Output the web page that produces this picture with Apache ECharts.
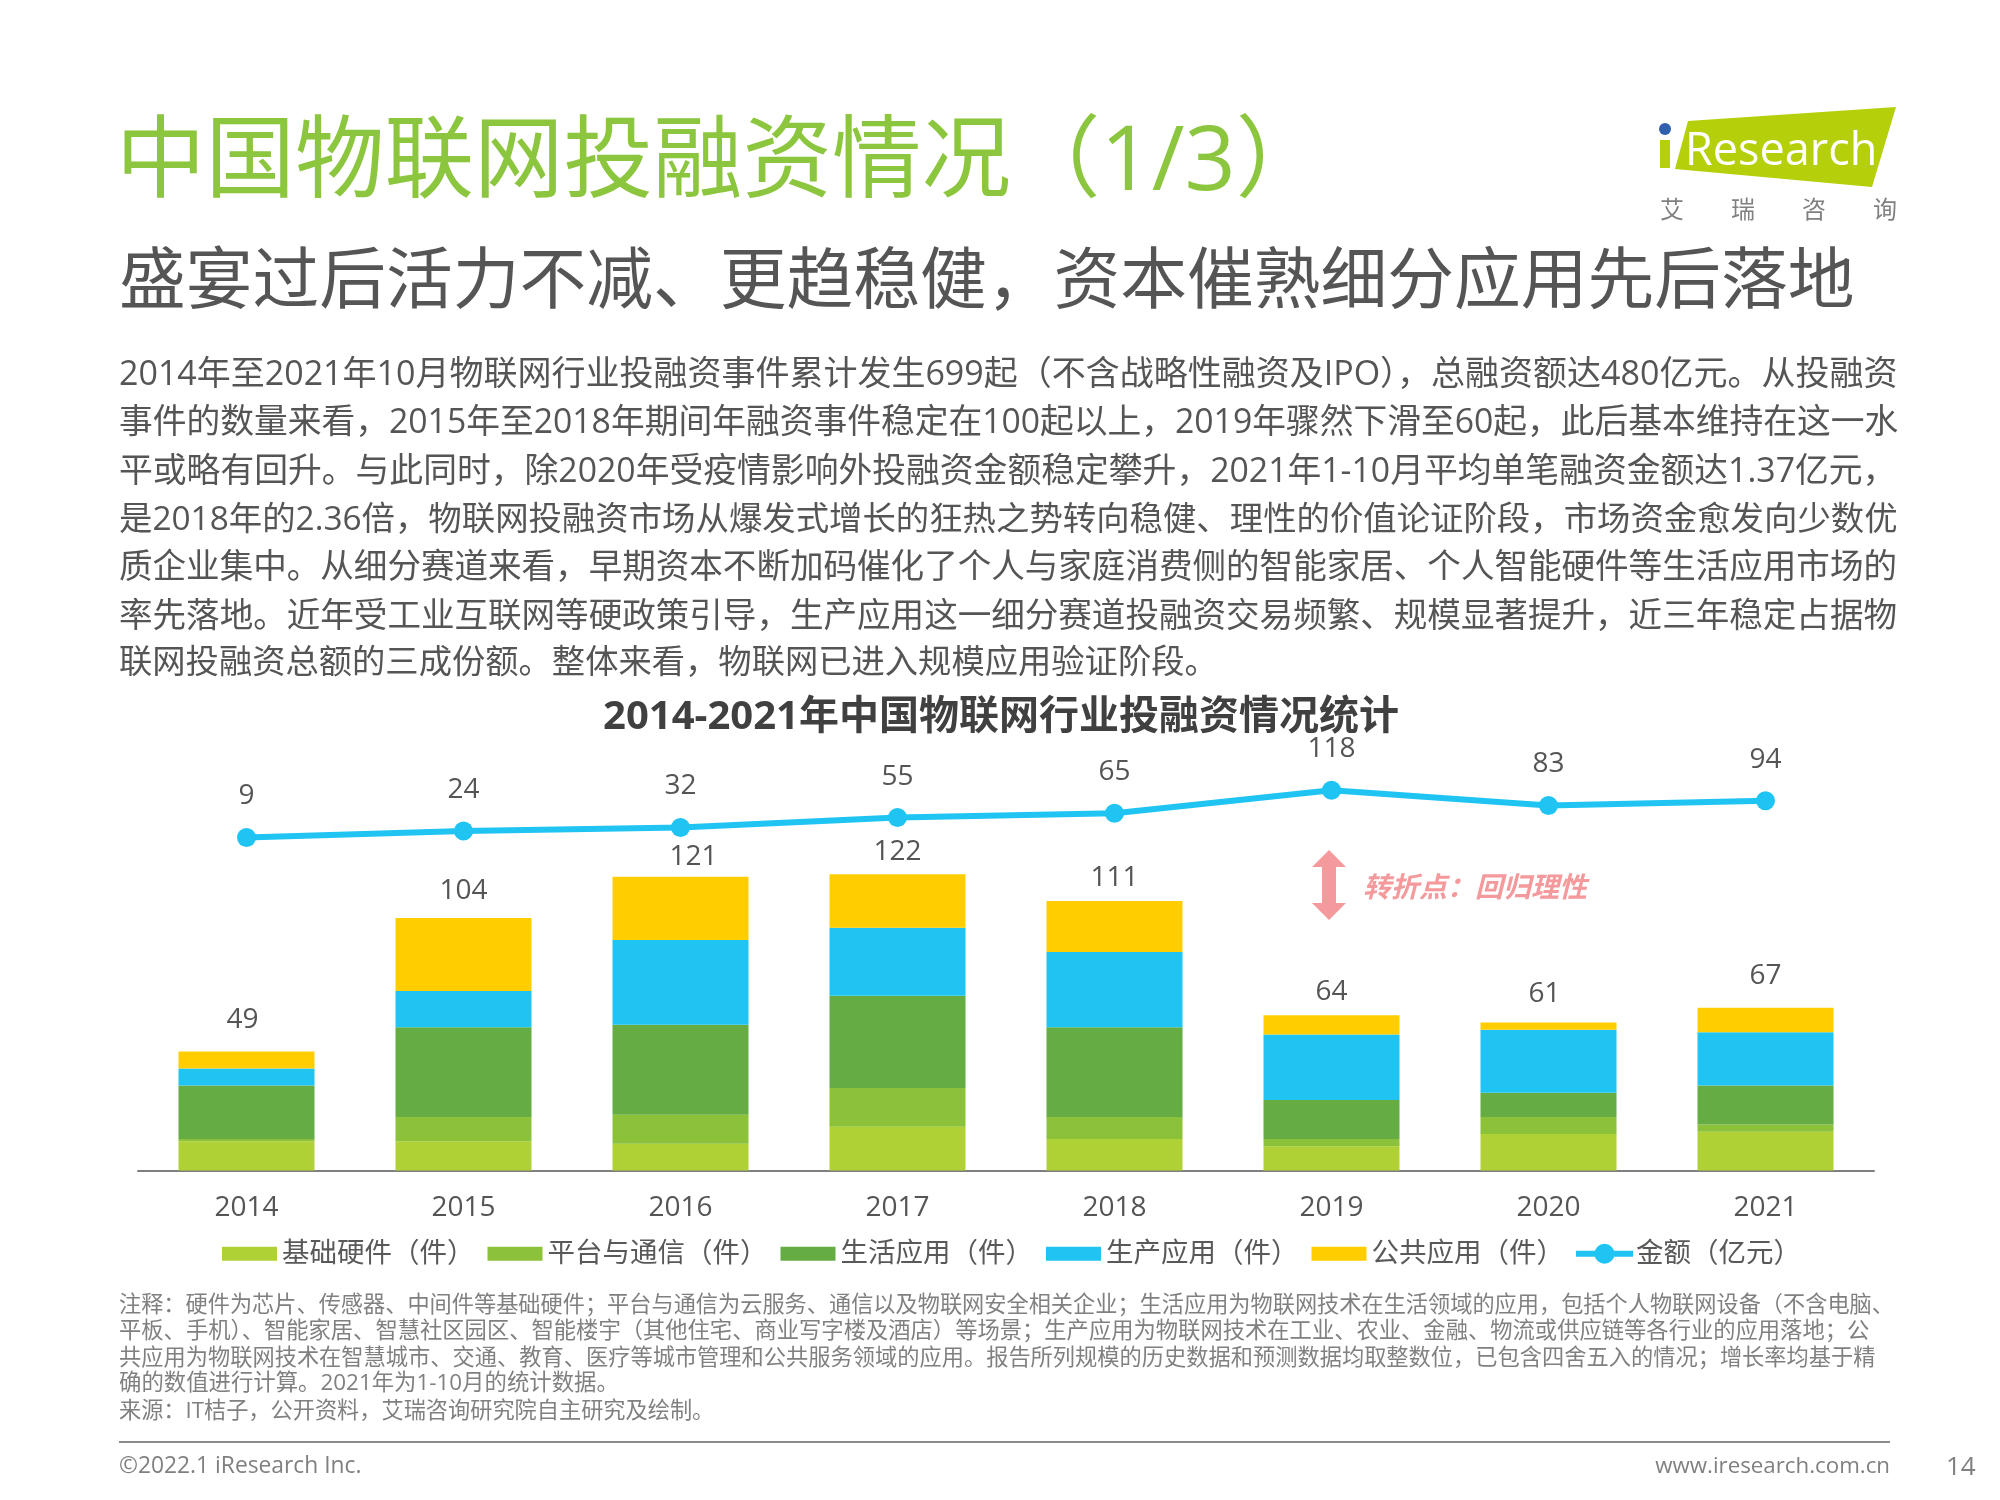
<!DOCTYPE html>
<html><head><meta charset="utf-8">
<style>html,body{margin:0;padding:0;background:#fff}#c{width:2000px;height:1500px}</style>
<script src="https://cdn.jsdelivr.net/npm/echarts@6/dist/echarts.min.js"></script>
</head><body><div id="c"></div>
<script>
const years = ['2014','2015','2016','2017','2018','2019','2020','2021'];
const hardware = [12,12,11,18,13,10,15,16];
const platform = [1,10,12,16,9,3,7,3];
const life = [22,37,37,38,37,16,10,16];
const production = [7,15,35,28,31,27,26,22];
const publicApp = [7,30,26,22,21,8,3,10];
const totals = [49,104,121,122,111,64,61,67];
const amount = [9,24,32,55,65,118,83,94];

const seriesNames = ['基础硬件（件）','平台与通信（件）','生活应用（件）','生产应用（件）','公共应用（件）'];
const lineName = '金额（亿元）';
const mainTitle = '中国物联网投融资情况（1/3）';
const subTitle = '盛宴过后活力不减、更趋稳健，资本催熟细分应用先后落地';
const chartTitle = '2014-2021年中国物联网行业投融资情况统计';
const bodyLines = [
'2014年至2021年10月物联网行业投融资事件累计发生699起（不含战略性融资及IPO），总融资额达480亿元。从投融资',
'事件的数量来看，2015年至2018年期间年融资事件稳定在100起以上，2019年骤然下滑至60起，此后基本维持在这一水',
'平或略有回升。与此同时，除2020年受疫情影响外投融资金额稳定攀升，2021年1-10月平均单笔融资金额达1.37亿元，',
'是2018年的2.36倍，物联网投融资市场从爆发式增长的狂热之势转向稳健、理性的价值论证阶段，市场资金愈发向少数优',
'质企业集中。从细分赛道来看，早期资本不断加码催化了个人与家庭消费侧的智能家居、个人智能硬件等生活应用市场的',
'率先落地。近年受工业互联网等硬政策引导，生产应用这一细分赛道投融资交易频繁、规模显著提升，近三年稳定占据物',
'联网投融资总额的三成份额。整体来看，物联网已进入规模应用验证阶段。'];
const noteLines = [
'注释：硬件为芯片、传感器、中间件等基础硬件；平台与通信为云服务、通信以及物联网安全相关企业；生活应用为物联网技术在生活领域的应用，包括个人物联网设备（不含电脑、',
'平板、手机）、智能家居、智慧社区园区、智能楼宇（其他住宅、商业写字楼及酒店）等场景；生产应用为物联网技术在工业、农业、金融、物流或供应链等各行业的应用落地；公',
'共应用为物联网技术在智慧城市、交通、教育、医疗等城市管理和公共服务领域的应用。报告所列规模的历史数据和预测数据均取整数位，已包含四舍五入的情况；增长率均基于精',
'确的数值进行计算。2021年为1-10月的统计数据。',
'来源：IT桔子，公开资料，艾瑞咨询研究院自主研究及绘制。'];

const FONT = '"Open Sans","Noto Sans CJK SC",sans-serif';
const colors = ['#afd135','#8bc23a','#65ac43','#1fc4f3','#ffcd00'];
const lineColor = '#1fc4f3';
const textDark = '#555555';
const textGrey = '#808080';
const totalNudge = [[-4,-4],[0,1],[13,8],[0,6],[0,5],[0,5],[-4,0],[0,-4]];

function txt(x,y,text,size,fill,extra){
  return {type:'text',x:x,y:y,silent:true,style:Object.assign({text:text,fontSize:size,fill:fill,fontFamily:FONT,
    textVerticalAlign:'middle',verticalAlign:'middle',align:'left'},extra||{})};
}
const bodyY = [375,423,472,520,568,617,664];
const bodySize = [34,33.75,33.8,33.4,33.55,33.55,33.3];
const noteY = [1306,1332,1359,1384,1412];
const noteSize = [22.2,22.3,22.24,22.4,22.2];
const graphics = [
  txt(116,164,mainTitle,89.5,'#8cc63f',{fontWeight:400}),
  txt(119,284,subTitle,66.75,'#555555',{fontWeight:400}),
  txt(1001,718,chartTitle,40,'#404040',{fontWeight:700,align:'center'}),
  // logo
  {type:'polygon',silent:true,shape:{points:[[1688,121],[1896,107],[1872,187],[1675,169]]},style:{fill:'#b5cf0a'}},
  {type:'rect',silent:true,shape:{x:1660,y:140,width:10,height:28},style:{fill:'#b5cf0a'}},
  {type:'circle',silent:true,shape:{cx:1665,cy:129,r:6},style:{fill:'#2f5fad'}},
  txt(1685,152,'Research',45,'#ffffff'),
  txt(1672,211,'艾',24,textGrey,{align:'center'}),
  txt(1743,211,'瑞',24,textGrey,{align:'center'}),
  txt(1814,211,'咨',24,textGrey,{align:'center'}),
  txt(1885,211,'询',24,textGrey,{align:'center'}),
  // turning point annotation
  {type:'polygon',silent:true,shape:{points:[[1329,850],[1346,867],[1336,867],[1336,903],[1346,903],[1329,920],[1312,903],[1322,903],[1322,867],[1312,867]]},style:{fill:'#f59a9c'}},
  txt(1363,889,'转折点：回归理性',28,'#f59a9c',{fontStyle:'italic',fontWeight:700}),
  // footer
  {type:'line',silent:true,shape:{x1:119,y1:1442,x2:1890,y2:1442},style:{stroke:'#8c8c8c',lineWidth:2}},
  txt(119,1467,'©2022.1 iResearch Inc.',22.8,textGrey),
  txt(1890,1467,'www.iresearch.com.cn',22.3,textGrey,{align:'right'}),
  txt(1946,1468,'14',26,textGrey)
];
bodyLines.forEach((l,i)=>graphics.push(txt(119,bodyY[i],l,bodySize[i],textDark)));
noteLines.forEach((l,i)=>graphics.push(txt(119,noteY[i],l,noteSize[i],textGrey)));

const barData = [hardware,platform,life,production,publicApp];
const series = barData.map((d,i)=>({
  name:seriesNames[i],type:'bar',stack:'deals',barWidth:136,xAxisIndex:0,yAxisIndex:0,
  itemStyle:{color:colors[i]},
  data:d.map((v,j)=> i===4 ? {value:v,label:{show:true,position:'top',distance:14,offset:totalNudge[j],
        formatter:String(totals[j]),fontSize:28,color:textDark,fontFamily:FONT}} : v)
}));
series.push({name:lineName,type:'line',xAxisIndex:1,yAxisIndex:1,data:amount,
  symbol:'circle',symbolSize:19,lineStyle:{color:lineColor,width:6},itemStyle:{color:lineColor},
  clip:false,label:{show:true,position:'top',distance:17.5,fontSize:28,color:textDark,fontFamily:FONT}});

const chart = echarts.init(document.getElementById('c'),null,{renderer:'canvas'});
chart.setOption({
  animation:false,backgroundColor:'#fff',
  textStyle:{fontFamily:FONT},
  legend:[
   {left:217,top:1235,itemWidth:55,itemHeight:14,itemGap:13,icon:'rect',
    itemStyle:{borderWidth:0},
    data:seriesNames,
    textStyle:{fontSize:27.5,color:'#595959',fontFamily:FONT}},
   {left:1568,top:1235,itemWidth:57,itemHeight:25,
    lineStyle:{width:6},
    data:[lineName],
    textStyle:{fontSize:27.5,color:'#595959',fontFamily:FONT,padding:[0,0,0,-2]}}
  ],
  grid:[{left:138,width:1736,top:770,height:400.5},{left:138,width:1736,top:770,height:71.3}],
  xAxis:[
    {type:'category',gridIndex:0,data:years,axisTick:{show:false},
     axisLine:{lineStyle:{color:'#7f7f7f',width:2}},
     axisLabel:{margin:24,fontSize:28,color:textDark,fontFamily:FONT}},
    {type:'category',gridIndex:1,data:years,show:false}
  ],
  yAxis:[
    {type:'value',gridIndex:0,min:0,max:165,show:false,splitLine:{show:false}},
    {type:'value',gridIndex:1,min:0,max:165,show:false,splitLine:{show:false}}
  ],
  series:series,
  graphic:{elements:graphics}
});
</script></body></html>
